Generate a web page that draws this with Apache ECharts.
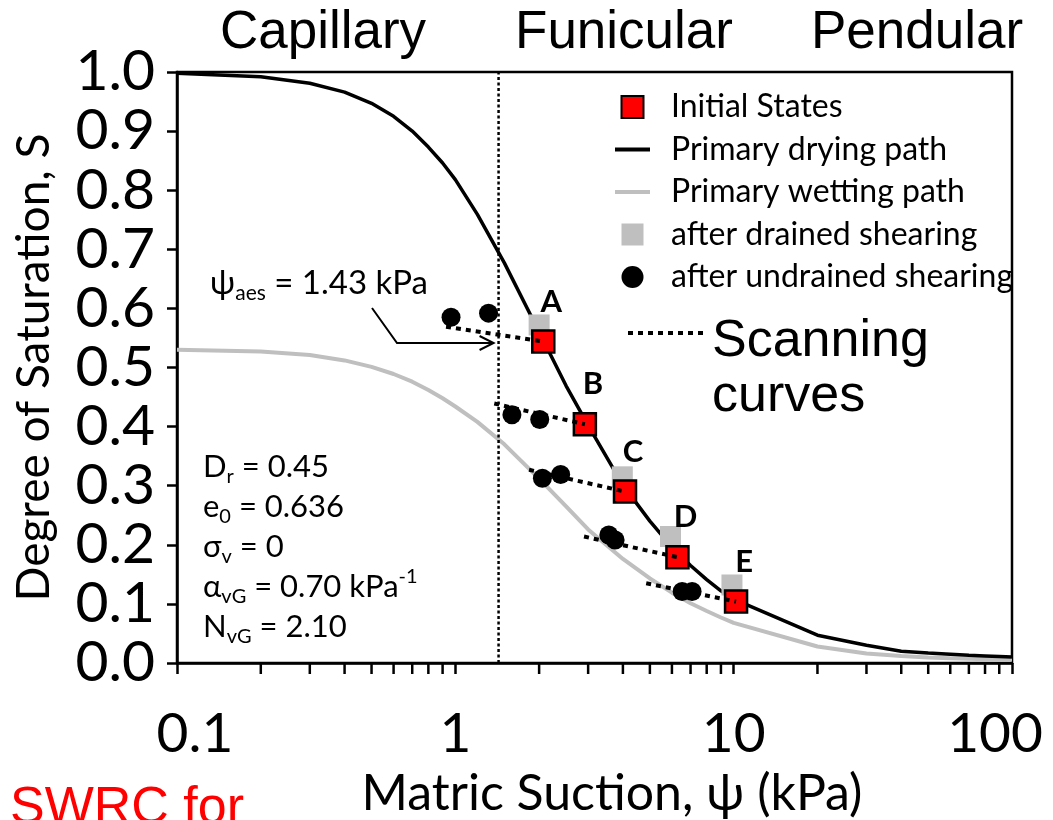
<!DOCTYPE html>
<html>
<head>
<meta charset="utf-8">
<script src="https://cdn.jsdelivr.net/npm/echarts@6/dist/echarts.min.js"></script>
<style>
  html, body { margin: 0; padding: 0; background: #ffffff; }
  #chart { width: 1053px; height: 820px; }
</style>
</head>
<body>
<div id="chart"></div>
<script>
// Primary drying path (van Genuchten fit), matric suction in kPa vs degree of saturation
const dryingSuction = [0.1, 0.2, 0.3, 0.4, 0.5, 0.6, 0.7, 0.8, 0.9, 1, 1.2, 1.5, 2, 2.5, 3, 4, 5, 6, 7, 8, 9, 10, 20, 30, 40, 50, 60, 70, 80, 90, 100];
const dryingSaturation = [0.998, 0.992, 0.981, 0.966, 0.947, 0.925, 0.900, 0.873, 0.846, 0.818, 0.759, 0.677, 0.560, 0.469, 0.402, 0.301, 0.240, 0.196, 0.165, 0.141, 0.122, 0.108, 0.047, 0.030, 0.020, 0.017, 0.015, 0.013, 0.012, 0.011, 0.010];

// Primary wetting path
const wettingSuction = [0.1, 0.2, 0.3, 0.4, 0.5, 0.6, 0.7, 0.8, 0.9, 1, 1.2, 1.5, 2, 2.5, 3, 4, 5, 6, 7, 8, 9, 10, 20, 30, 40, 50, 60, 70, 80, 90, 100];
const wettingSaturation = [0.530, 0.527, 0.521, 0.512, 0.501, 0.489, 0.476, 0.462, 0.448, 0.434, 0.408, 0.370, 0.312, 0.265, 0.226, 0.176, 0.143, 0.119, 0.101, 0.088, 0.077, 0.068, 0.028, 0.016, 0.012, 0.0095, 0.008, 0.007, 0.0065, 0.006, 0.0055];

// Specimen initial states A-E
const stateLabels = ['A', 'B', 'C', 'D', 'E'];
const initialSuction = [2.07, 2.92, 4.07, 6.28, 10.2];
const initialSaturation = [0.544, 0.404, 0.290, 0.179, 0.104];

// States after drained shearing
const drainedSuction = [2.0, 2.9, 3.98, 5.93, 9.86];
const drainedSaturation = [0.572, 0.405, 0.315, 0.214, 0.132];

// States after undrained shearing
const undrainedSuction = [0.965, 1.316, 1.597, 2.01, 2.055, 2.39, 3.56, 3.75, 6.53, 7.09];
const undrainedSaturation = [0.585, 0.592, 0.420, 0.412, 0.3125, 0.319, 0.2166, 0.208, 0.121, 0.121];

// Scanning curves: each starts here and ends at its initial state
const scanStartSuction = [0.926, 1.38, 1.84, 2.90, 4.85];
const scanStartSaturation = [0.569, 0.439, 0.327, 0.214, 0.135];

// Air-entry suction (kPa)
const airEntrySuction = 1.43;

// Minor ticks of the logarithmic suction axis
const xMinorTicks = [0.2, 0.3, 0.4, 0.5, 0.6, 0.7, 0.8, 0.9, 2, 3, 4, 5, 6, 7, 8, 9, 20, 30, 40, 50, 60, 70, 80, 90];

const zip = (xs, ys) => xs.map((x, i) => [x, ys[i]]);

const FONT = 'Lato, "Open Sans", "Noto Sans", sans-serif';
const ARIAL = '"Liberation Sans", Arial, sans-serif';
const squareIcon = 'path://M0,0L10,0L10,10L0,10Z';
const lineIcon = 'path://M0,0L35,0L35,4L0,4Z';

const chart = echarts.init(document.getElementById('chart'), null, { renderer: 'canvas' });

const scanSeries = scanStartSuction.map((x, i) => ({
  name: 'scan' + stateLabels[i],
  type: 'line',
  data: [[x, scanStartSaturation[i]], [initialSuction[i], initialSaturation[i]]],
  symbol: 'none',
  silent: true,
  lineStyle: { color: '#000', width: 4, type: [5, 5] },
  z: 6
}));

const option = {
  animation: false,
  backgroundColor: '#ffffff',
  grid: {
    left: 177, right: 41, top: 72, bottom: 157,
    show: true, borderColor: '#000', borderWidth: 2.5,
    backgroundColor: 'transparent',
    containLabel: false,
    outerBoundsMode: 'none'
  },
  legend: {
    data: [
      { name: 'Initial States', icon: squareIcon },
      { name: 'Primary drying path', icon: lineIcon },
      { name: 'Primary wetting path', icon: lineIcon },
      { name: 'after drained shearing', icon: squareIcon },
      { name: 'after undrained shearing', icon: 'circle' }
    ],
    orient: 'vertical',
    left: 615, top: 91,
    padding: 0,
    itemWidth: 35, itemHeight: 22, itemGap: 10.5,
    selectedMode: false,
    textStyle: { fontFamily: FONT, fontSize: 32, color: '#000', padding: [0, 0, 0, 16] }
  },
  xAxis: {
    type: 'log', logBase: 10, min: 0.1, max: 100,
    name: 'Matric Suction, ψ (kPa)',
    nameLocation: 'middle', nameGap: 106,
    nameTextStyle: { fontFamily: FONT, fontSize: 50, color: '#000', padding: [0, 0, 0, 35] },
    axisLine: { show: true, lineStyle: { color: '#000', width: 2.5 } },
    axisTick: { show: true, inside: false, length: 11, lineStyle: { color: '#000', width: 2.5 } },
    axisLabel: {
      fontFamily: FONT, fontSize: 55, color: '#000', margin: 44,
      formatter: v => (v <= 0.1 ? '{l|' + v + '}' : v >= 100 ? '{r|' + v + '}' : '{c|' + v + '}'),
      rich: {
        l: { fontFamily: FONT, fontSize: 55, color: '#000', padding: [0, 0, 0, 36] },
        r: { fontFamily: FONT, fontSize: 55, color: '#000', padding: [0, 34, 0, 0] },
        c: { fontFamily: FONT, fontSize: 55, color: '#000' }
      }
    },
    splitLine: { show: false }
  },
  yAxis: {
    type: 'value', min: 0, max: 1, interval: 0.1,
    name: 'Degree of Saturation, S',
    nameLocation: 'middle', nameRotate: 90, nameGap: 120,
    nameTextStyle: { fontFamily: FONT, fontSize: 46, color: '#000' },
    axisLine: { show: true, lineStyle: { color: '#000', width: 2.5 } },
    axisTick: { show: true, inside: false, length: 10, lineStyle: { color: '#000', width: 2.5 } },
    axisLabel: { fontFamily: FONT, fontSize: 57, color: '#000', margin: 22, formatter: v => v.toFixed(1) },
    splitLine: { show: false }
  },
  series: [
    {
      name: 'Primary wetting path', type: 'line',
      data: zip(wettingSuction, wettingSaturation),
      symbol: 'none', silent: true,
      itemStyle: { color: '#bfbfbf' },
      lineStyle: { color: '#bfbfbf', width: 4 },
      z: 2
    },
    {
      name: 'Primary drying path', type: 'line',
      data: zip(dryingSuction, dryingSaturation),
      symbol: 'none', silent: true,
      itemStyle: { color: '#000' },
      lineStyle: { color: '#000', width: 3.5 },
      z: 2
    },
    {
      name: 'air entry', type: 'line',
      data: [[airEntrySuction, 0], [airEntrySuction, 1]],
      symbol: 'none', silent: true,
      lineStyle: { color: '#000', width: 2.5, type: [3, 2.5] },
      z: 2
    },
    {
      name: 'after drained shearing', type: 'scatter',
      data: zip(drainedSuction, drainedSaturation),
      symbol: 'rect', symbolSize: 21,
      itemStyle: { color: '#bfbfbf', opacity: 1 },
      z: 3
    },
    {
      name: 'after undrained shearing', type: 'scatter',
      data: zip(undrainedSuction, undrainedSaturation),
      symbol: 'circle', symbolSize: 19,
      itemStyle: { color: '#000', opacity: 1 },
      z: 4
    },
    {
      name: 'Initial States', type: 'scatter',
      data: zip(initialSuction, initialSaturation),
      symbol: 'rect', symbolSize: 22,
      itemStyle: { color: '#ff0000', borderColor: '#000', borderWidth: 2.5, opacity: 1 },
      label: {
        show: true, position: 'top', distance: 12, offset: [8, 0],
        formatter: p => stateLabels[p.dataIndex],
        fontFamily: FONT, fontSize: 31, fontWeight: 'bold', color: '#000'
      },
      z: 5
    },
    ...scanSeries,
    {
      name: 'minor ticks', type: 'custom',
      data: xMinorTicks.map(v => [v, 0]),
      encode: { x: 0, y: 1 },
      silent: true, clip: false,
      renderItem: (params, api) => {
        const p = api.coord([api.value(0), 0]);
        return {
          type: 'line',
          shape: { x1: p[0], y1: p[1], x2: p[0], y2: p[1] + 11 },
          style: { stroke: '#000', lineWidth: 2.5 }
        };
      },
      z: 7
    }
  ]
};

chart.setOption(option);

// Annotations: regime headers, parameters, air-entry label and arrow, scanning-curve key
const lineX = chart.convertToPixel({ xAxisIndex: 0 }, airEntrySuction);
const tipX = lineX - 5;
const arrowY = 343;

const paramRich = {
  m: { fontFamily: FONT, fontSize: 31, lineHeight: 40, fill: '#000' },
  s: { fontFamily: FONT, fontSize: 20, lineHeight: 22, verticalAlign: 'bottom', fill: '#000' },
  p: { fontFamily: FONT, fontSize: 20, lineHeight: 22, verticalAlign: 'top', fill: '#000' }
};

chart.setOption({
  graphic: [
    { type: 'text', x: 323, y: 33, style: { text: 'Capillary', font: '53px ' + ARIAL, fill: '#000', align: 'center', verticalAlign: 'middle' } },
    { type: 'text', x: 624, y: 33, style: { text: 'Funicular', font: '53px ' + ARIAL, fill: '#000', align: 'center', verticalAlign: 'middle' } },
    { type: 'text', x: 917, y: 33, style: { text: 'Pendular', font: '53px ' + ARIAL, fill: '#000', align: 'center', verticalAlign: 'middle' } },
    {
      type: 'text', x: 203, y: 447,
      style: {
        text: '{m|D}{s|r}{m| = 0.45}\n{m|e}{s|0}{m| = 0.636}\n{m|σ}{s|v}{m| = 0}\n{m|α}{s|vG}{m| = 0.70 kPa}{p|-1}\n{m|N}{s|vG}{m| = 2.10}',
        rich: paramRich, align: 'left', verticalAlign: 'top'
      }
    },
    {
      type: 'text', x: 210, y: 262,
      style: {
        text: '{m|ψ}{s|aes}{m| = 1.43 kPa}',
        rich: {
          m: { fontFamily: FONT, fontSize: 33, lineHeight: 42, fill: '#000' },
          s: { fontFamily: FONT, fontSize: 21, lineHeight: 22, verticalAlign: 'bottom', fill: '#000' }
        },
        align: 'left', verticalAlign: 'top'
      }
    },
    {
      type: 'polyline',
      shape: { points: [[372, 308], [397, arrowY], [tipX, arrowY]] },
      style: { stroke: '#000', lineWidth: 2, fill: null }
    },
    {
      type: 'polyline',
      shape: { points: [[tipX - 14, arrowY - 7], [tipX, arrowY], [tipX - 14, arrowY + 7]] },
      style: { stroke: '#000', lineWidth: 2, fill: null }
    },
    {
      type: 'line',
      shape: { x1: 628, y1: 333, x2: 704, y2: 333 },
      style: { stroke: '#000', lineWidth: 4, lineDash: [5, 5] }
    },
    { type: 'text', x: 712, y: 342, style: { text: 'Scanning', font: '52px ' + ARIAL, fill: '#000', align: 'left', verticalAlign: 'middle' } },
    { type: 'text', x: 712, y: 397, style: { text: 'curves', font: '52px ' + ARIAL, fill: '#000', align: 'left', verticalAlign: 'middle' } },
    { type: 'text', x: 10, y: 809, style: { text: 'SWRC for', font: '52px ' + ARIAL, fill: '#ff0000', align: 'left', verticalAlign: 'middle' } }
  ]
});
</script>
</body>
</html>
